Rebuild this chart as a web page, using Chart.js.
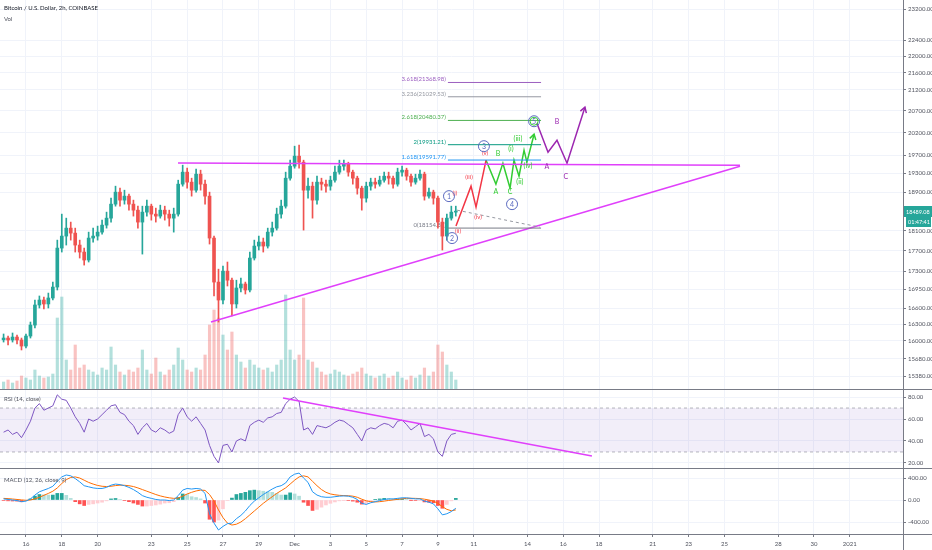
<!DOCTYPE html>
<html>
<head>
<meta charset="utf-8">
<title>BTCUSD 2h</title>
<script src="https://cdn.jsdelivr.net/npm/chart.js@4.4.1/dist/chart.umd.min.js"></script>
<style>
  html, body { margin: 0; padding: 0; background: #fff; overflow: hidden; }
  #wrap { position: relative; width: 932px; height: 550px; }
  canvas { position: absolute; left: 0; display: block; }
</style>
</head>
<body>
<div id="wrap">
  <canvas id="priceC" width="932" height="390" style="top:0"></canvas>
  <canvas id="rsiC" width="932" height="79" style="top:390px"></canvas>
  <canvas id="macdC" width="932" height="81" style="top:469px"></canvas>
</div>
<script>
// ---------- data (6h candles) ----------
const titleText = 'Bitcoin / U.S. Dollar, 2h, COINBASE';
const startDay = 14.75;      // Nov 14 18:00, x axis is in "day of Nov" (Dec 1 = 31)
const stepDay = 0.25;
const firstOpen = 16020;
const countdown = '01:47:41';

const closes = [16052,16017,16070,16017,15909,16088,16287,16657,16750,16676,
  16788,16995,17753,17993,18154,18053,17813,17674,17517,17953,
  17993,18073,18215,18358,18648,18900,18732,18816,18648,18523,
  18277,18482,18606,18441,18400,18523,18441,18358,18441,19070,
  19328,19113,18942,19284,19070,18816,17953,17090,16750,17301,
  17126,16676,16977,17053,16939,17556,17793,17873,17793,18073,
  18154,18441,18606,19198,19458,19677,19545,18942,19027,18732,
  19113,19070,19027,19155,19328,19458,19501,19328,19198,18985,
  18774,19027,19113,19070,19155,19241,19198,19070,19328,19371,
  19241,19113,19198,19284,18816,18900,18774,18277,17993,18358,
  18482,18489.08];
const highs = [16125,16088,16143,16106,16052,16125,16342,16750,16826,16806,
  16881,17090,17912,18441,18358,18277,18154,17912,17753,18073,
  18154,18195,18317,18482,18774,19027,18985,18942,18858,18732,
  18606,18606,18732,18648,18565,18627,18606,18523,18565,19155,
  19480,19414,19198,19393,19371,19155,18900,17993,17339,17399,
  17478,17166,17126,17166,17090,17674,17912,17993,17953,18154,
  18277,18565,18732,19328,19589,19898,19920,19589,19198,19113,
  19241,19198,19155,19241,19458,19589,19589,19545,19371,19241,
  19027,19113,19198,19198,19241,19328,19328,19241,19414,19458,
  19414,19284,19284,19371,19328,18985,18942,18816,18358,18441,
  18606,18606];
const lows = [15980,15928,15980,15945,15839,15874,16052,16233,16601,16583,
  16601,16750,16939,17674,17813,17912,17674,17556,17418,17478,
  17873,17912,18033,18154,18277,18606,18606,18648,18523,18400,
  18154,17634,18400,18317,18277,18358,18317,18195,18073,18400,
  19027,18985,18816,18900,18942,18648,17833,16826,16342,16676,
  17015,16453,16601,16901,16863,16901,17517,17714,17674,17753,
  17993,18114,18358,18565,19155,19414,19414,18114,18774,18358,
  18648,18942,18900,18942,19113,19284,19371,19241,19070,18858,
  18523,18690,18942,18985,19027,19113,19070,18985,19027,19241,
  19155,19027,19070,19155,18732,18774,18648,18154,17714,17912,
  18317,18400];
const volumes = [800,1000,700,900,1400,1200,1000,2000,1400,1200,
  1300,1600,7200,9300,3000,2000,4500,2200,2500,2000,
  1800,1500,2200,2000,4300,2500,1800,1500,2000,1800,
  2200,4000,2000,1600,3200,1800,1500,2000,2500,4200,
  3000,2000,1800,2200,2000,3500,6500,8000,7200,5500,
  4000,5800,3500,2800,2200,3000,2500,2200,2000,2200,
  1800,2500,3000,9500,4000,3000,3500,9200,3000,2800,
  2200,1800,1500,1600,2000,1800,1500,1400,1600,1800,
  2200,1600,1400,1200,1400,1600,1200,1400,1800,1200,
  1000,1400,1200,1500,2200,1400,1800,4500,3800,2500,
  1800,1000];
const rsi = [48,50,46,48,43,50,58,70,74,68,
  70,72,82,78,77,70,62,56,48,60,
  58,60,64,68,72,73,66,64,58,54,
  46,52,56,50,48,52,50,47,49,64,
  70,62,58,62,56,50,36,26,20,36,
  37,30,40,42,40,54,57,59,57,61,
  62,65,66,74,78,80,76,50,52,46,
  54,53,52,54,57,59,58,55,52,46,
  40,50,52,51,54,56,55,52,58,59,
  55,50,53,56,44,46,42,30,26,40,
  46,47];
const macd = [20,10,0,-10,-30,-20,20,90,150,180,
  210,250,340,420,455,440,390,330,260,240,
  220,210,210,230,270,290,280,260,230,190,
  140,80,50,30,10,0,0,-10,0,80,
  180,210,200,210,200,120,-250,-420,-545,-480,
  -430,-420,-340,-280,-200,-100,-20,40,100,150,
  200,240,260,310,420,470,490,400,320,150,
  90,60,50,50,60,70,75,70,50,10,
  -60,-80,-50,-30,-10,10,20,20,30,40,
  40,30,20,20,-20,-40,-70,-160,-270,-250,
  -210,-150];
const signal = [30,25,18,10,2,-5,0,20,50,85,
  120,160,220,300,370,410,420,400,360,320,
  290,265,250,245,250,262,270,268,260,245,
  220,190,160,130,100,75,55,40,30,35,
  70,110,140,165,180,175,100,-20,-180,-320,
  -420,-455,-440,-400,-340,-270,-200,-130,-60,0,
  60,120,170,220,290,360,420,440,420,340,
  260,190,140,110,95,85,80,78,70,50,
  15,-15,-30,-35,-30,-20,-8,2,12,22,
  30,32,30,26,15,0,-20,-60,-120,-170,
  -195,-180];
const hist = [-10,-15,-18,-20,-32,-15,20,70,100,95,
  90,90,120,120,85,30,-30,-70,-100,-80,
  -70,-55,-40,-15,20,28,10,-8,-30,-55,
  -80,-110,-110,-100,-90,-75,-55,-50,-30,45,
  110,100,60,45,20,-55,-350,-400,-365,-160,
  -10,35,100,120,140,170,180,170,160,150,
  140,120,90,90,130,110,70,-40,-100,-190,
  -170,-130,-90,-60,-35,-15,-5,-8,-20,-40,
  -75,-65,-20,5,20,30,28,18,18,18,
  10,-2,-10,-6,-35,-40,-50,-100,-150,-80,
  -15,30];

const xMin = 14.55, xMax = 64.97;
const dayTicks = [16,18,20,23,25,27,29,31,33,35,37,39,41,44,46,48,51,53,55,58,60,62];
const dayLabels = ['16','18','20','23','25','27','29','Dec','3','5','7','9','11','14','16','18','21','23','25','28','30','2021'];
const priceTicks = [15380,15680,16000,16300,16600,16950,17300,17700,18100,18900,19300,19700,20200,20700,21200,21600,22000,22400,23200];
const rsiTicks = [20,40,60,80];
const macdTicks = [-400,0,400];

// drawings, anchored in (day, price)
const fibLevels = ['0','1.618','2','2.618','3.236','3.618'];
const fibPrices = [18154.83,19591.77,19931.21,20480.37,21029.53,21368.98];
const fibSpan = [39.56, 44.76];
const upperLine = [[24.49,19525],[55.87,19480]];
const lowerLine = [[26.33,16342],[55.87,19458]];
const zeroGuide = [[40.07,18523],[44.70,18174]];
const redWave = [[40.01,18195],[40.85,19027],[41.13,18585],[41.69,19589]];
const greenWave = [[41.69,19589],[42.24,19070],[42.63,19523],[43.03,18985],[43.25,19589],[43.53,19241],[43.81,19809],[43.97,19545],[44.37,20167]];
const purpleWave = [[44.53,20417],[45.15,19765],[45.65,20032],[46.21,19523],[47.21,20785]];
const rsiTrend = [[30.35,79.1],[47.6,26.4]];
const redLabels = [['(i)',39.95,18879],['(ii)',40.12,18093],['(iii)',40.74,19220],['(iv)',41.24,18379],['(v)',41.63,19743]];
const greenLabels = [['A',42.24,18900],['B',42.36,19721],['C',43.03,18900],['(i)',43.08,19831],['(ii)',43.58,19113],['(iii)',43.47,20054],['(iv)',44.03,19458]];
const purpleLabels = [['A',45.09,19436],['B',45.65,20440],['C',46.15,19220]];
const circleLabels = [['1',39.62,18816],['2',39.79,17953],['3',41.57,19898],['4',43.14,18648],['5',44.37,20462]];

// ---------- styles ----------
const fontFam = 'Lato, "DejaVu Sans", sans-serif';
Chart.defaults.font.family = fontFam;
Chart.defaults.color = '#50535e';
const gridColor = '#f0f3fa';
const axisColor = '#787b86';
const upColor = '#26a69a', downColor = '#ef5350';
const pink = '#e040fb', red = '#f23645', green = '#33cc33', purple = '#9c27b0', indigo = '#5c6bc0';
const fibColors = ['#787b86', '#2196f3', '#089981', '#4caf50', '#9598a1', '#9c5fc0'];

const times = closes.map((c, i) => startDay + i * stepDay);
const opens = closes.map((c, i) => i ? closes[i - 1] : firstOpen);
const candleColors = closes.map((c, i) => c >= opens[i] ? upColor : downColor);
const volColors = closes.map((c, i) => c >= opens[i] ? 'rgba(38,166,154,0.35)' : 'rgba(239,83,80,0.35)');
const histColors = hist.map((h, i) => {
  const prev = i ? hist[i - 1] : 0;
  if (h >= 0) return h >= prev ? '#26a69a' : '#b2dfdb';
  return h < prev ? '#ff5252' : '#ffcdd2';
});

function pts(arr) { return arr.map(p => ({ x: p[0], y: p[1] })); }
function lineDs(arr, color, width, dash) {
  return { type: 'line', data: pts(arr), borderColor: color, borderWidth: width, borderDash: dash || [],
    pointRadius: 0, fill: false, tension: 0, order: 0 };
}
function hiddenX() {
  return { type: 'linear', min: xMin, max: xMax, bounds: 'data', offset: false,
    afterBuildTicks: s => { s.ticks = dayTicks.map(v => ({ value: v })); },
    ticks: { display: false }, grid: { color: gridColor, drawTicks: false, offset: false }, border: { display: false },
    afterFit: s => { s.height = 0; s.paddingLeft = 0; s.paddingRight = 0; } };
}
function rightY(min, max, ticks, type) {
  return { type: type || 'linear', position: 'right', min: min, max: max, bounds: 'data',
    afterBuildTicks: s => { s.ticks = ticks.map(v => ({ value: v })); },
    ticks: { autoSkip: false, font: { size: 6 }, color: '#50535e', padding: 2, callback: v => Number(v).toFixed(2) },
    grid: { color: gridColor, tickLength: 3, tickColor: axisColor },
    border: { color: axisColor },
    afterFit: s => { s.width = 29; s.paddingTop = 0; s.paddingBottom = 0; } };
}
function bottomRule(chart) {
  const ctx = chart.ctx;
  ctx.save();
  ctx.strokeStyle = axisColor; ctx.lineWidth = 1;
  ctx.beginPath(); ctx.moveTo(0, chart.height - 0.5); ctx.lineTo(chart.width, chart.height - 0.5); ctx.stroke();
  ctx.restore();
}
function arrowHead(ctx, xs, ys, arr, color) {
  const a = arr[arr.length - 2], b = arr[arr.length - 1];
  const x1 = xs.getPixelForValue(a[0]), y1 = ys.getPixelForValue(a[1]);
  const x2 = xs.getPixelForValue(b[0]), y2 = ys.getPixelForValue(b[1]);
  const ang = Math.atan2(y2 - y1, x2 - x1);
  ctx.strokeStyle = color; ctx.lineWidth = 1.5;
  ctx.beginPath();
  ctx.moveTo(x2 - 6 * Math.cos(ang - 0.55), y2 - 6 * Math.sin(ang - 0.55));
  ctx.lineTo(x2, y2);
  ctx.lineTo(x2 - 6 * Math.cos(ang + 0.55), y2 - 6 * Math.sin(ang + 0.55));
  ctx.stroke();
}

// ---------- price pane ----------
const priceDecor = {
  id: 'priceDecor',
  beforeDatasetsDraw(chart) {
    const { ctx } = chart, xs = chart.scales.x, ys = chart.scales.y;
    ctx.save();
    ctx.font = '6px ' + fontFam;
    ctx.textAlign = 'right'; ctx.textBaseline = 'middle';
    fibPrices.forEach((p, i) => {
      ctx.fillStyle = fibColors[i];
      ctx.fillText(fibLevels[i] + '(' + p.toFixed(2) + ')', xs.getPixelForValue(fibSpan[0]) - 2, ys.getPixelForValue(p) - 3);
    });
    ctx.restore();
  },
  afterDatasetsDraw(chart) {
    const { ctx } = chart, xs = chart.scales.x, ys = chart.scales.y;
    ctx.save();
    ctx.textAlign = 'center'; ctx.textBaseline = 'middle';
    const put = (list, color, size) => {
      ctx.fillStyle = color; ctx.font = size + 'px ' + fontFam;
      list.forEach(l => ctx.fillText(l[0], xs.getPixelForValue(l[1]), ys.getPixelForValue(l[2])));
    };
    put(redLabels, red, 6);
    put(greenLabels, green, 7);
    put(purpleLabels, purple, 7);
    circleLabels.forEach((l, i) => {
      const cx = xs.getPixelForValue(l[1]), cy = ys.getPixelForValue(l[2]);
      const last = i === circleLabels.length - 1;
      ctx.lineWidth = 1; ctx.strokeStyle = indigo;
      ctx.beginPath(); ctx.arc(cx, cy, 5.5, 0, Math.PI * 2); ctx.stroke();
      if (last) { ctx.strokeStyle = green; ctx.beginPath(); ctx.arc(cx, cy, 4, 0, Math.PI * 2); ctx.stroke(); }
      ctx.fillStyle = indigo; ctx.font = '7px ' + fontFam;
      ctx.fillText(l[0], cx, cy + 0.5);
    });
    arrowHead(ctx, xs, ys, greenWave, green);
    arrowHead(ctx, xs, ys, purpleWave, purple);
    ctx.restore();
  },
  afterDraw(chart) {
    const { ctx } = chart, ys = chart.scales.y;
    ctx.save();
    ctx.textAlign = 'left'; ctx.textBaseline = 'middle';
    ctx.font = '6px ' + fontFam; ctx.fillStyle = '#131722';
    ctx.fillText(titleText, 4, 8);
    ctx.fillStyle = '#50535e';
    ctx.fillText('Vol', 4, 19);
    const lastPrice = closes[closes.length - 1];
    const py = Math.round(ys.getPixelForValue(lastPrice));
    ctx.fillStyle = upColor;
    ctx.fillRect(ys.left + 1, py - 6, chart.width - ys.left - 1, 11);
    ctx.fillRect(ys.left + 3, py + 5, chart.width - ys.left - 4, 10);
    ctx.fillStyle = '#fff';
    ctx.font = '5.5px ' + fontFam;
    ctx.fillText(lastPrice.toFixed(2), ys.left + 3, py);
    ctx.fillText(countdown, ys.left + 5, py + 10);
    ctx.restore();
    bottomRule(chart);
  }
};

const priceDatasets = [
  { type: 'bar', data: volumes.map((v, i) => ({ x: times[i], y: v })), yAxisID: 'vol',
    backgroundColor: volColors, barThickness: 2.5, grouped: false, order: 10 },
  { type: 'bar', data: times.map((t, i) => ({ x: t, y: [lows[i], highs[i]] })), yAxisID: 'y',
    backgroundColor: candleColors, barThickness: 1, grouped: false, order: 3 },
  { type: 'bar', data: times.map((t, i) => ({ x: t, y: [opens[i], closes[i]] })), yAxisID: 'y',
    backgroundColor: candleColors, barThickness: 3, grouped: false, minBarLength: 1, order: 2 }
];
fibPrices.forEach((p, i) => priceDatasets.push(lineDs([[fibSpan[0], p], [fibSpan[1], p]], fibColors[i], 1)));
priceDatasets.push(lineDs(zeroGuide, '#9598a1', 1, [3, 3]));
priceDatasets.push(lineDs(upperLine, pink, 1.5));
priceDatasets.push(lineDs(lowerLine, pink, 1.5));
priceDatasets.push(lineDs(redWave, red, 1.5));
priceDatasets.push(lineDs(greenWave, green, 1.5));
priceDatasets.push(lineDs(purpleWave, purple, 1.5));

new Chart(document.getElementById('priceC'), {
  type: 'bar',
  data: { datasets: priceDatasets },
  options: {
    responsive: false, animation: false, events: [],
    layout: { padding: 0 },
    plugins: { legend: { display: false }, tooltip: { enabled: false } },
    scales: {
      x: hiddenX(),
      y: rightY(15145, 23436, priceTicks, 'logarithmic'),
      vol: { type: 'linear', display: false, min: 0, max: 39000 }
    }
  },
  plugins: [priceDecor]
});

// ---------- RSI pane ----------
new Chart(document.getElementById('rsiC'), {
  type: 'line',
  data: { datasets: [
    { data: [{ x: xMin, y: 70 }, { x: xMax, y: 70 }], borderColor: 'rgba(120,123,134,0.55)', borderWidth: 1,
      borderDash: [3, 3], pointRadius: 0, fill: '+1', backgroundColor: 'rgba(126,87,194,0.1)', order: 5 },
    { data: [{ x: xMin, y: 30 }, { x: xMax, y: 30 }], borderColor: 'rgba(120,123,134,0.55)', borderWidth: 1,
      borderDash: [3, 3], pointRadius: 0, fill: false, order: 5 },
    { data: rsi.map((v, i) => ({ x: times[i], y: v })), borderColor: '#7e57c2', borderWidth: 1,
      pointRadius: 0, fill: false, tension: 0, order: 1 },
    lineDs(rsiTrend, pink, 1.5)
  ] },
  options: {
    responsive: false, animation: false, events: [],
    plugins: { legend: { display: false }, tooltip: { enabled: false } },
    scales: { x: hiddenX(), y: rightY(14.5, 86.4, rsiTicks) }
  },
  plugins: [{
    id: 'rsiDecor',
    afterDraw(chart) {
      const ctx = chart.ctx;
      ctx.save();
      ctx.font = '6px ' + fontFam; ctx.fillStyle = '#50535e';
      ctx.textAlign = 'left'; ctx.textBaseline = 'middle';
      ctx.fillText('RSI (14, close)', 4, 9);
      ctx.restore();
      bottomRule(chart);
    }
  }]
});

// ---------- MACD pane ----------
const macdX = hiddenX();
macdX.ticks = { display: true, autoSkip: false, maxRotation: 0, font: { size: 6 }, color: '#50535e', padding: 3,
  callback: v => dayLabels[dayTicks.indexOf(v)] };
macdX.grid = { color: gridColor, tickLength: 3, tickColor: axisColor, offset: false };
macdX.border = { color: axisColor };
macdX.afterFit = s => { s.height = 16; s.paddingLeft = 0; s.paddingRight = 0; };

new Chart(document.getElementById('macdC'), {
  type: 'bar',
  data: { datasets: [
    { type: 'bar', data: hist.map((v, i) => ({ x: times[i], y: v })), backgroundColor: histColors,
      barThickness: 3, grouped: false, order: 5 },
    { type: 'line', data: macd.map((v, i) => ({ x: times[i], y: v })), borderColor: '#2196f3', borderWidth: 1,
      pointRadius: 0, fill: false, tension: 0, order: 1 },
    { type: 'line', data: signal.map((v, i) => ({ x: times[i], y: v })), borderColor: '#ff6d00', borderWidth: 1,
      pointRadius: 0, fill: false, tension: 0, order: 2 }
  ] },
  options: {
    responsive: false, animation: false, events: [],
    plugins: { legend: { display: false }, tooltip: { enabled: false } },
    scales: { x: macdX, y: rightY(-618, 564, macdTicks) }
  },
  plugins: [{
    id: 'macdDecor',
    afterDraw(chart) {
      const ctx = chart.ctx, ca = chart.chartArea, ys = chart.scales.y;
      ctx.save();
      ctx.font = '6px ' + fontFam; ctx.fillStyle = '#50535e';
      ctx.textAlign = 'left'; ctx.textBaseline = 'middle';
      ctx.fillText('MACD (12, 26, close, 9)', 4, 11);
      ctx.strokeStyle = axisColor; ctx.lineWidth = 1;
      ctx.beginPath(); ctx.moveTo(0, ca.bottom + 0.5); ctx.lineTo(chart.width, ca.bottom + 0.5); ctx.stroke();
      ctx.beginPath(); ctx.moveTo(ys.left + 0.5, ca.bottom); ctx.lineTo(ys.left + 0.5, chart.height); ctx.stroke();
      ctx.restore();
    }
  }]
});
</script>
</body>
</html>
